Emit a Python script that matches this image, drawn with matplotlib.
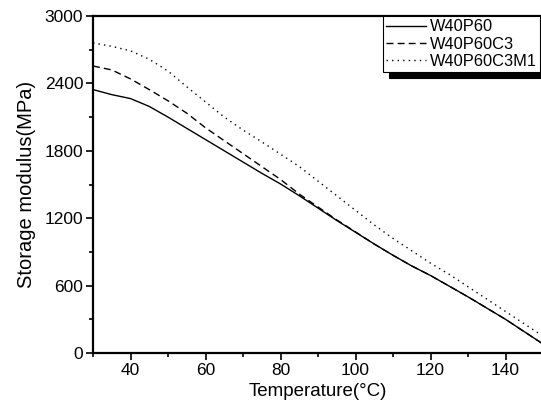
import matplotlib
matplotlib.use("Agg")
import matplotlib.pyplot as plt
from matplotlib.ticker import MultipleLocator

plt.rcParams['font.family'] = ['Liberation Sans', 'DejaVu Sans']

temp = [30, 35, 40, 45, 50, 55, 60, 65, 70, 75, 80, 85, 90, 95, 100,
        105, 110, 115, 120, 125, 130, 135, 140, 145, 150]
w40p60 = [2345, 2300, 2265, 2195, 2100, 2000, 1900, 1800, 1700, 1600, 1505,
          1400, 1290, 1180, 1075, 970, 870, 775, 690, 595, 500, 400, 300, 190, 80]
w40p60c3 = [2555, 2520, 2440, 2345, 2245, 2135, 2005, 1890, 1775, 1660, 1545,
            1415, 1300, 1185, 1078, 970, 870, 775, 690, 595, 500, 400, 300, 190, 80]
w40p60c3m1 = [2760, 2730, 2690, 2615, 2510, 2370, 2235, 2100, 1985, 1880, 1770,
              1660, 1530, 1400, 1270, 1140, 1020, 910, 800, 700, 590, 480, 370, 260, 150]

labels = ['W40P60', 'W40P60C3', 'W40P60C3M1']

fig = plt.figure(figsize=(5.41, 4.12), dpi=100)
ax = fig.add_axes([93/541, 59/412, 450/541, 337/412])

ax.plot(temp, w40p60, color='black', lw=1.0, ls='-', label=labels[0])
ax.plot(temp, w40p60c3, color='black', lw=1.0, ls=(0, (5, 3)), label=labels[1])
ax.plot(temp, w40p60c3m1, color='black', lw=1.0, ls=(0, (1, 3)), label=labels[2])

ax.set_xlim(30, 150)
ax.set_ylim(0, 3000)
ax.xaxis.set_major_locator(MultipleLocator(20))
ax.xaxis.set_minor_locator(MultipleLocator(10))
ax.yaxis.set_major_locator(MultipleLocator(600))
ax.yaxis.set_minor_locator(MultipleLocator(300))
ax.tick_params(which='major', direction='out', length=5, width=1.2,
               labelsize=12.5, colors='black', pad=2)
ax.tick_params(which='minor', direction='out', length=3, width=1.2)
for s in ax.spines.values():
    s.set_linewidth(1.6)

ax.set_xlabel('Temperature(°C)', fontsize=13.5, labelpad=4)
ax.set_ylabel('Storage modulus(MPa)', fontsize=14.5, labelpad=6)

leg = ax.legend(loc='upper right', bbox_to_anchor=(540/541, 396/412),
                bbox_transform=fig.transFigure, fancybox=False, frameon=True,
                edgecolor='black', fontsize=11.8, handlelength=2.4,
                borderpad=0.2, labelspacing=0.15, handletextpad=0.25,
                borderaxespad=0.0,
                shadow={'color': 'black', 'alpha': 1.0, 'ox': 4, 'oy': -4})
leg.get_frame().set_linewidth(0.8)

fig.savefig('out.png', dpi=100)
